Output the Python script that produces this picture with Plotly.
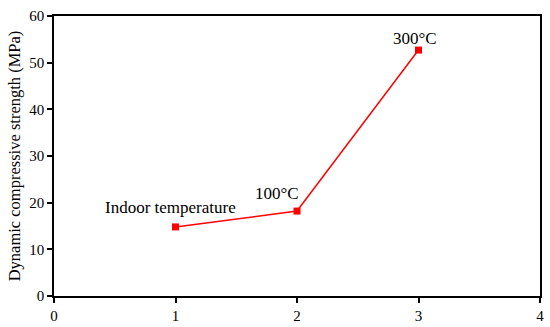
import plotly.graph_objects as go

x_vals = [1, 2, 3]
strength = [14.8, 18.2, 52.7]
labels = ["Indoor temperature", "100°C", "300°C"]
label_shift = [(-5, 19), (-20, 18), (-4, 12)]

SERIF = "Liberation Serif, Times New Roman, serif"

fig = go.Figure()
fig.add_trace(go.Scatter(
    x=x_vals, y=strength, mode="lines+markers",
    line=dict(color="#ff0000", width=1.5),
    marker=dict(symbol="square", size=7, color="#ff0000"),
    showlegend=False, hoverinfo="skip",
))
for xv, yv, t, (dx, dy) in zip(x_vals, strength, labels, label_shift):
    fig.add_annotation(x=xv, y=yv, text=t, showarrow=False, xshift=dx, yshift=dy,
                       font=dict(family=SERIF, size=17, color="black"))

axis_common = dict(showline=True, linecolor="black", linewidth=1.5, mirror=True,
                   ticks="outside", ticklen=5, tickwidth=1.5, tickcolor="black",
                   showgrid=False, zeroline=False, automargin=False,
                   tickfont=dict(family=SERIF, size=15, color="black"))
fig.update_xaxes(range=[0, 4], dtick=1, **axis_common)
fig.update_yaxes(range=[0, 60], dtick=10,
                 title=dict(text="Dynamic compressive strength (MPa)", standoff=4,
                            font=dict(family=SERIF, size=16.5, color="black")),
                 **axis_common)
fig.update_layout(width=550, height=327, margin=dict(l=54, r=10, t=16, b=31),
                  font=dict(family=SERIF, color="black"),
                  plot_bgcolor="white", paper_bgcolor="white")
fig.write_html("out.html", config={"displayModeBar": False},
               post_script="document.body.style.margin='0';")
